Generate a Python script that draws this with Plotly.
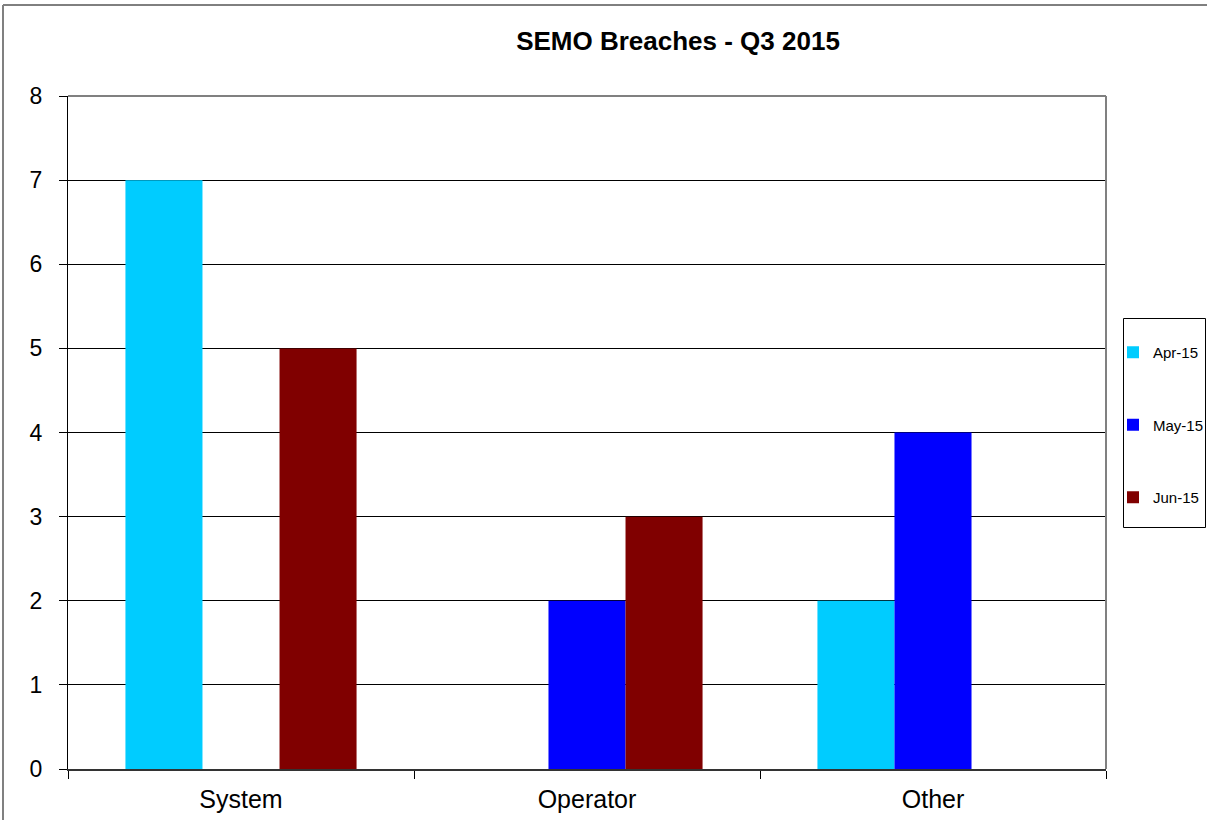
import plotly.graph_objects as go

# Breach counts per category for each month
categories = ["System", "Operator", "Other"]
apr_15 = [7, 0, 2]
may_15 = [0, 2, 4]
jun_15 = [5, 3, 0]
series_names = ["Apr-15", "May-15", "Jun-15"]
series_colors = ["#00CCFF", "#0000FF", "#800000"]
y_ticks = [0, 1, 2, 3, 4, 5, 6, 7, 8]

W, H = 1207, 820
L, R, T, B = 68, 101, 96, 51
PW, PH = W - L - R, H - T - B


def px_x(p):
    return (p - L) / PW


def px_y(p):
    return (H - B - p) / PH


fig = go.Figure()
for i, (name, vals, col) in enumerate(zip(series_names, [apr_15, may_15, jun_15], series_colors)):
    fig.add_trace(go.Bar(
        x=categories, y=vals, name=name, legendgroup=name,
        marker=dict(color=col, line=dict(width=0)),
    ))

font_family = "Liberation Sans, Arial, sans-serif"

fig.update_layout(
    width=W, height=H,
    margin=dict(l=L, r=R, t=T, b=B, autoexpand=False),
    paper_bgcolor="white", plot_bgcolor="white",
    barmode="group", bargap=0.332, bargroupgap=0,
    font=dict(family=font_family, color="black"),
    title=dict(
        text="<b>SEMO Breaches - Q3 2015</b>",
        x=678 / W, xref="container", xanchor="center",
        y=1 - 41 / H, yref="container", yanchor="middle",
        font=dict(size=26, family=font_family, color="black"),
    ),
    xaxis=dict(
        type="category", tickson="boundaries", ticks="outside", ticklen=8,
        tickcolor="black", tickwidth=1, showgrid=False,
        showline=True, linecolor="#333333", linewidth=2,
        tickfont=dict(size=25), ticklabelstandoff=7,
    ),
    yaxis=dict(
        range=[0, 8], tickvals=y_ticks, ticks="outside", ticklen=8,
        tickcolor="black", tickwidth=1,
        showgrid=True, gridcolor="black", gridwidth=1,
        showline=True, linecolor="black", linewidth=1,
        zeroline=False, tickfont=dict(size=23), ticklabelstandoff=12,
    ),
    legend=dict(
        x=1123 / W, xref="container", xanchor="left",
        y=1 - 336 / H, yref="container", yanchor="top",
        borderwidth=0, bgcolor="rgba(0,0,0,0)",
        font=dict(size=15), traceorder="grouped", tracegroupgap=50,
        itemwidth=30, indentation=-10,
    ),
    shapes=[
        # grey plot-area border on top and right
        dict(type="line", xref="paper", yref="paper", x0=0, x1=1, y0=1, y1=1,
             line=dict(color="#808080", width=2), layer="above"),
        dict(type="line", xref="paper", yref="paper", x0=1, x1=1, y0=0, y1=1,
             line=dict(color="#808080", width=2), layer="above"),
        # outer chart frame
        dict(type="line", xref="paper", yref="paper", x0=px_x(3), x1=px_x(W + 5),
             y0=px_y(5), y1=px_y(5), line=dict(color="black", width=1)),
        dict(type="line", xref="paper", yref="paper", x0=px_x(3), x1=px_x(3),
             y0=px_y(5), y1=px_y(H + 5), line=dict(color="#808080", width=2)),
        # legend frame
        dict(type="rect", xref="paper", yref="paper",
             x0=px_x(1123.5), x1=px_x(1205.5), y0=px_y(318.5), y1=px_y(527.5),
             line=dict(color="black", width=1), fillcolor="white", layer="below"),
    ],
)

fig.write_html("out.html")
